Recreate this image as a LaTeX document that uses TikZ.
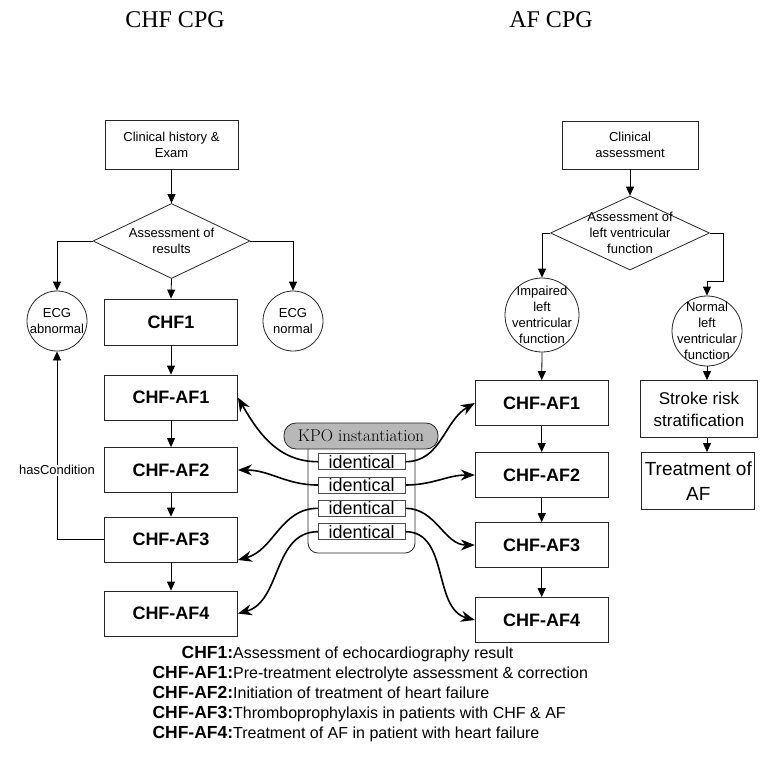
\documentclass[tikz,border=0pt]{standalone}
\usepackage{fontspec}
\newfontfamily\arialfont{Liberation Sans}
\newfontfamily\timesfont{Liberation Serif}
\usetikzlibrary{arrows.meta,shapes.geometric,positioning}

\newcommand{\keyline}[2]{\makebox[85pt][r]{\bfseries\fontsize{17.5}{20}\selectfont #1:}#2}

\tikzset{
  box/.style={draw=black!85, line width=0.8pt, minimum width=133pt, minimum height=46pt,
    inner sep=0pt, align=center, font=\arialfont\fontsize{13}{16}\selectfont},
  stepbox/.style={box, font=\arialfont\bfseries\fontsize{18}{21}\selectfont},
  decision/.style={draw=black!85, line width=0.8pt, diamond, inner sep=0pt},
  state/.style={draw=black!85, line width=0.8pt, circle, inner sep=0pt},
  inner/.style={align=center, inner sep=0pt, font=\arialfont\fontsize{13}{16}\selectfont},
  kpobox/.style={draw=black!85, line width=0.8pt, fill=black!28, rounded corners=12pt,
    minimum width=154pt, minimum height=26pt, inner sep=0pt, font=\fontsize{17}{20}\selectfont},
  group/.style={draw=black!85, line width=0.8pt, rounded corners=10pt,
    minimum width=107pt, minimum height=113pt, inner sep=0pt},
  same/.style={draw=black!70, line width=0.7pt, fill=white, minimum width=87pt,
    minimum height=16pt, inner sep=0pt, font=\arialfont\fontsize{18}{18}\selectfont},
  flow/.style={-{Triangle[length=9pt,width=8pt]}, line width=0.8pt},
  link/.style={-{Stealth[length=14pt,width=11pt]}, line width=1.6pt},
  title/.style={anchor=base, font=\timesfont\fontsize{24}{28}\selectfont},
}

\begin{document}
\begin{tikzpicture}[x=1pt,y=1pt]
\useasboundingbox (0,0) rectangle (767,-756);

% titles
\node[title] (tchf) at (175,-27) {CHF CPG};
\node[title] (taf) at (551,-27) {AF CPG};

% CHF CPG
\node[box, minimum height=49pt, font=\arialfont\fontsize{13}{15.7}\selectfont] (lclin) at (171.5,-144.5) {Clinical history \&\\Exam};
\node[decision, minimum width=157pt, minimum height=75pt] (ldia) at (171.5,-241) {};
\node[inner] at (ldia) {Assessment of\\results};
\node[state, minimum size=60pt] (abn) at (57,-321) {};
\node[inner] at (abn) {ECG\\abnormal};
\node[state, minimum size=60pt] (nrm) at (293,-321) {};
\node[inner] at (nrm) {ECG\\normal};
\node[stepbox] (chf1) at (171,-322) {CHF1};
\node[stepbox, minimum height=45pt] (lAF1) at (171,-397.5) {CHF-AF1};
\node[stepbox, minimum height=45pt] (lAF2) at (171,-470) {CHF-AF2};
\node[stepbox, minimum height=45pt] (lAF3) at (171,-539.5) {CHF-AF3};
\node[stepbox, minimum height=45pt] (lAF4) at (171,-613.5) {CHF-AF4};

\draw[flow] (lclin.south) -- (ldia.north);
\draw[flow] (ldia.south) -- (chf1.north);
\draw[flow] (ldia.west) -| (abn.north);
\draw[flow] (ldia.east) -| (nrm.north);
\draw[flow] (chf1.south) -- (lAF1.north);
\draw[flow] (lAF1.south) -- (lAF2.north);
\draw[flow] (lAF2.south) -- (lAF3.north);
\draw[flow] (lAF3.south) -- (lAF4.north);
\draw[flow] (lAF3.west) -| node[pos=0.684, fill=white, inner sep=1pt,
  font=\arialfont\fontsize{13}{16}\selectfont] {hasCondition} (abn.south);

% AF CPG
\node[box, minimum width=136pt, minimum height=48pt] (rclin) at (630,-145) {Clinical\\assessment};
\node[decision, minimum width=159pt, minimum height=74pt] (rdia) at (630,-233) {};
\node[inner] at (rdia) {Assessment of\\left ventricular\\function};
\node[state, minimum size=74pt] (imp) at (542,-315) {};
\node[inner] at (imp) {Impaired\\left\\ventricular\\function};
\node[state, minimum size=70pt] (nlv) at (707,-331) {};
\node[inner] at (nlv) {Normal\\left\\ventricular\\function};
\node[stepbox, minimum height=45pt] (rAF1) at (541.7,-403) {CHF-AF1};
\node[stepbox, minimum height=45pt] (rAF2) at (541.7,-475) {CHF-AF2};
\node[stepbox, minimum height=45pt] (rAF3) at (541.7,-545) {CHF-AF3};
\node[stepbox, minimum height=45pt] (rAF4) at (541.7,-620) {CHF-AF4};
\node[box, minimum width=117pt, minimum height=57pt, font=\arialfont\fontsize{17}{22}\selectfont] (stroke) at (699,-409) {Stroke risk\\stratification};
\node[box, minimum width=113pt, minimum height=57pt, font=\arialfont\fontsize{19}{25}\selectfont] (treat) at (698.3,-481) {Treatment of\\AF};

\draw[flow] (rclin.south) -- (rdia.north);
\draw[flow] (rdia.west) -| (imp.north);
\draw[flow] (rdia.east) -- ++(13,0) |- ([yshift=14pt]nlv.north) -- (nlv.north);
\draw[flow] (imp.south) -- (rAF1.north);
\draw[flow] (rAF1.south) -- (rAF2.north);
\draw[flow] (rAF2.south) -- (rAF3.north);
\draw[flow] (rAF3.south) -- (rAF4.north);
\draw[flow] (nlv.south) -- (nlv.south |- stroke.north);
\draw[flow] (stroke.south -| nlv.south) -- (treat.north -| nlv.south);

% KPO instantiation
\node[group] (grp) at (361.5,-496.5) {};
\node[kpobox] (kpo) at (361,-436) {KPO instantiation};
\foreach \i/\y in {1/461.7,2/485,3/508.3,4/531.7}
  \node[same] (id\i) at (361.7,-\y) {identical};

\draw[link] (id1.west) to[out=180,in=-60] (lAF1.east);
\draw[link] (id1.east) to[out=0,in=210] (rAF1.west);
\draw[link] (id2.west) to[out=180,in=0] (lAF2.east);
\draw[link] (id2.east) to[out=0,in=180] (rAF2.west);
\draw[link] (id3.west) to[out=180,in=15] (lAF3.-17);
\draw[link] (id3.east) to[out=0,in=180] (rAF3.west);
\draw[link] (id4.west) to[out=180,in=15] (lAF4.east);
\draw[link] (id4.east) to[out=0,in=165] (rAF4.west);

% legend
\node[anchor=north west, align=left, inner sep=0pt, font=\arialfont\fontsize{16}{20}\selectfont] (key) at (148,-646) {%
  \keyline{CHF1}{Assessment of echocardiography result}\\
  \keyline{CHF-AF1}{Pre-treatment electrolyte assessment \& correction}\\
  \keyline{CHF-AF2}{Initiation of treatment of heart failure}\\
  \keyline{CHF-AF3}{Thromboprophylaxis in patients with CHF \& AF}\\
  \keyline{CHF-AF4}{Treatment of AF in patient with heart failure}};
\end{tikzpicture}
\end{document}
